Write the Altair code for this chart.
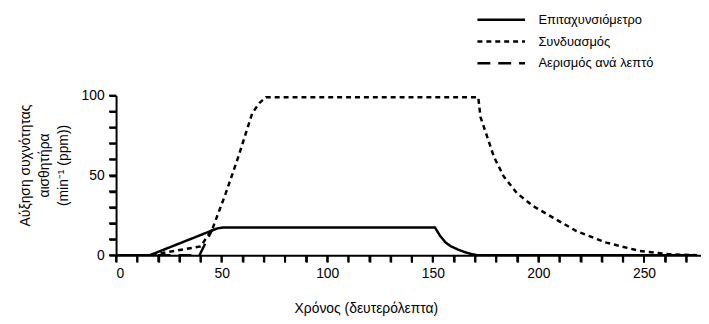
import altair as alt
import pandas as pd

series_names = ["Επιταχυνσιόμετρο", "Συνδυασμός", "Αερισμός ανά λεπτό"]

acc_x = [0, 16, 45.5, 48, 51, 151, 153.5, 156, 158.5, 162, 165, 168, 171, 275]
acc_y = [0, 0, 15.5, 16.8, 17.4, 17.4, 12, 8, 5.6, 3.5, 2, 0.8, 0, 0]

comb_x = [0, 16, 40, 45.5, 52, 58, 64.5, 68, 71, 171.5, 172.6, 175.8, 178.9, 183.6,
          189.8, 197.7, 207.1, 218, 232.1, 247.8, 261.9, 275]
comb_y = [0, 0, 5.5, 16, 39, 62, 89, 95.5, 99, 99, 86.5, 74, 61.7, 49.3,
          38.9, 30.6, 23.4, 15.1, 7.9, 2.7, 0.6, 0]

vent_x = [0, 39.5, 45.5]
vent_y = [0, 0, 16]

x_ticks = list(range(0, 271, 10))
y_ticks = list(range(0, 101, 10))

rows = []
for name, xs, ys in zip(series_names, [acc_x, comb_x, vent_x], [acc_y, comb_y, vent_y]):
    for i, (a, b) in enumerate(zip(xs, ys)):
        rows.append({"series": name, "t": a, "v": b, "i": i})
df = pd.DataFrame(rows)
xt_df = pd.DataFrame({"t": x_ticks})
yt_df = pd.DataFrame({"v": y_ticks})

FONT = "Liberation Sans"
H = 161

x_scale = alt.Scale(domain=[0, 277], nice=False, zero=False)
y_scale = alt.Scale(domain=[0, 100], nice=False)

x_axis = alt.Axis(values=x_ticks, title="Χρόνος (δευτερόλεπτα)",
                  ticks=True, tickSize=7,
                  labelExpr="datum.value % 50 == 0 ? datum.label : ''",
                  titleX=252, titleY=54, titleAlign="center",
                  titleBaseline="middle", titleAnchor="start")
y_axis = alt.Axis(values=y_ticks,
                  title=["Αύξηση συχνότητας", "αισθητήρα", "(min⁻¹ (ppm))"],
                  ticks=True, tickSize=7,
                  labelExpr="datum.value % 50 == 0 ? datum.label : ''",
                  titleX=-91, titleY=70, titleAlign="center",
                  titleBaseline="middle", titleAngle=270, titleAnchor="start",
                  titleLineHeight=19)

lines = alt.Chart(df).mark_line(strokeWidth=2.5, color="black", clip=True).encode(
    x=alt.X("t:Q", scale=x_scale, axis=x_axis),
    y=alt.Y("v:Q", scale=y_scale, axis=y_axis),
    strokeDash=alt.StrokeDash("series:N",
        scale=alt.Scale(domain=series_names, range=[[1, 0], [5, 4], [13, 8]]),
        legend=alt.Legend(title=None, orient="none", legendX=381, legendY=-84,
                          symbolType="M-4,0H4", symbolSize=144, symbolStrokeWidth=2.5,
                          symbolStrokeColor="black", labelFontSize=13, labelFont=FONT,
                          labelColor="black", labelOffset=30, rowPadding=7)),
    detail="series:N",
    order="i:Q",
)

xticks = alt.Chart(xt_df).mark_rule(color="black", strokeWidth=2).encode(
    x=alt.X("t:Q", scale=x_scale, axis=x_axis),
    y=alt.value(H), y2=alt.value(H + 7),
)
yticks = alt.Chart(yt_df).mark_rule(color="black", strokeWidth=2).encode(
    y=alt.Y("v:Q", scale=y_scale, axis=y_axis),
    x=alt.value(-7), x2=alt.value(0),
)

chart = alt.layer(lines, xticks, yticks).properties(
    width=590, height=H,
    padding={"left": 11, "top": 3, "right": 0, "bottom": 0},
).configure_view(stroke=None).configure_axis(
    domainColor="black", domainWidth=2, tickColor="black", tickWidth=2, tickSize=7,
    labelColor="black", labelFontSize=14, labelFont=FONT, labelPadding=5,
    titleColor="black", titleFontSize=14, titleFont=FONT, titleFontWeight="normal",
    grid=False,
)

chart.save("out.html", embed_options={"renderer": "svg", "actions": False})
